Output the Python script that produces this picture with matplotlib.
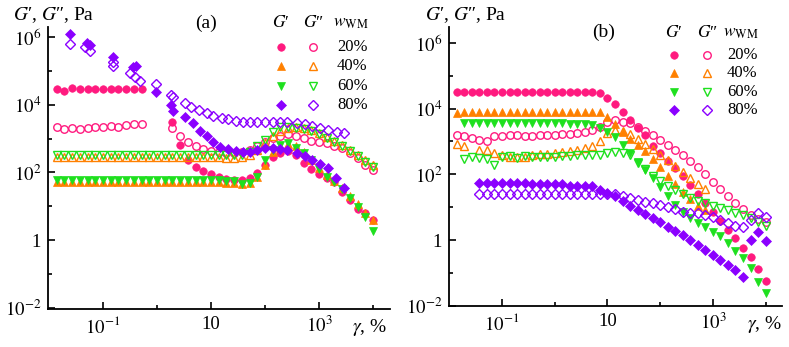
import numpy as np
import matplotlib
matplotlib.use('Agg')
import matplotlib.pyplot as plt

plt.rcParams['font.family'] = ['Liberation Serif', 'DejaVu Serif']
plt.rcParams['mathtext.fontset'] = 'stix'

nan = float('nan')

# strain amplitude sweep, %
GAMMA = [0.0139, 0.0193, 0.0268, 0.0373, 0.0518, 0.0720, 0.100, 0.139, 0.193, 0.268,
         0.373, 0.518, 0.720, 1.00, 1.39, 1.93, 2.68, 3.73, 5.18, 7.20,
         10.0, 13.9, 19.3, 26.8, 37.3, 51.8, 72.0, 100, 139, 193,
         268, 373, 518, 720, 1000, 1390, 1930, 2680, 3730, 5180,
         7200, 10000]

WWM_LABELS = ['20%', '40%', '60%', '80%']

# ---------------- panel (a) ----------------
a_G1_20 = [2.9e4, 2.5e4, 3.1e4, 2.9e4, 2.9e4, 2.9e4, 2.9e4, 2.9e4, 2.9e4, 2.9e4, 2.9e4, 2.9e4,
           nan, nan, nan, 3100, 650, 235, 145, 110, 90, 73, 64, 60, 60, 68, 96, 166, 280, 370,
           430, 325, 190, 126, 90, 68, 52, 26, 15.5, 8.3, 6.3, 4.0]
a_G2_20 = [2190, 1910, 2040, 1910, 2040, 2190, 2190, 2340, 2190, 2510, 2700, 2700,
           nan, nan, nan, 2040, 1170, 790, 600, 490, 430, 400, 370, 370, 400, 460, 600, 790, 1030, 1170,
           1350, 1170, 1030, 850, 790, 740, 600, 525, 370, 260, 166, 118]
a_G1_40 = [52, 51, 52, 53, 52, 52, 51, 52, 52, 53, 52, 52, 51, 52, 52, 52, 53, 52, 51, 52,
           52, 51, 50, 50, 45, 50, 75, 166, 400, 560, 690, 600, 400, 235, 135, 83, 56, 35, 20, 11.7,
           6.3, 4.0]
a_G2_40 = [280, 278, 280, 282, 280, 280, 278, 280, 281, 280, 279, 280, 280, 281, 280, 280, 279, 280, 280, 278,
           278, 276, 275, 275, 280, 325, 460, 740, 1180, 1660, 2040, 2190, 2040, 1780, 1450, 1100, 850, 650, 460, 325,
           235, 166]
a_G1_60 = [60, 61, 60, 60, 61, 60, 60, 61, 60, 60, 60, 61, 60, 60, 60, 61, 60, 60, 59, 60,
           59, 58, 57, 55, 46, 49, 73, 235, 460, 650, 740, 525, 370, 235, 126, 73, 52, 32, 17.5, 9.5,
           4.8, 1.9]
a_G2_60 = [325, 326, 325, 324, 325, 326, 325, 325, 324, 325, 325, 326, 325, 325, 324, 325, 325, 326, 325, 324,
           322, 320, 318, 318, 320, 400, 600, 910, 1550, 2190, 2190, 2040, 1910, 1660, 1350, 1020, 790, 600, 430, 300,
           200, 145]
# 80 % sample was measured on its own strain points
a_x80_G1 = [0.0245, 0.0506, 0.0574, 0.153, 0.360, 0.408, 0.957, 1.82, 1.98, 3.30, 4.64, 6.26, 8.43, 10.9,
            14.7, 20.6, 29.0, 39.1, 52.7, 71.1, 100, 141, 190, 255, 392, 551, 741, 1040, 1470, 2070, 2900]
a_G1_80 = [1.21e6, 6.6e5, 5.7e5, 2.5e5, 1.29e5, 1.38e5, 2.35e4, 9700, 6500, 4300, 2870, 1660, 1190, 790,
           560, 490, 428, 400, 400, 458, 525, 525, 490, 458, 373, 305, 232, 177, 135, 68, 35]
a_x80_G2 = [0.0245, 0.0464, 0.0574, 0.153, 0.153, 0.316, 0.392, 0.484, 0.957, 1.82, 1.98, 3.30, 4.26, 5.99,
            8.43, 10.9, 16.0, 20.6, 29.0, 39.1, 52.7, 71.1, 100, 141, 190, 255, 392, 551, 741, 1040,
            1470, 2150, 2900]
a_G2_80 = [6.1e5, 5.0e5, 3.8e5, 1.8e5, 1.38e5, 8.6e4, 6.5e4, 5.0e4, 4.1e4, 1.92e4, 1.68e4, 1.11e4, 8500, 6900,
           5650, 4600, 4000, 3760, 3280, 3070, 3070, 3070, 3070, 3070, 3070, 3070, 2870, 2680, 2340, 2040,
           1780, 1560, 1450]

# ---------------- panel (b) ----------------
b_G1_20 = [3.1e4, 3.2e4, 3.2e4, 3.2e4, 3.2e4, 3.2e4, 3.2e4, 3.2e4, 3.2e4, 3.2e4, 3.2e4, 3.2e4, 3.2e4, 3.2e4,
           3.2e4, 3.2e4, 3.2e4, 3.2e4, 3.1e4, 2.9e4, 2.1e4, 1.4e4, 7900, 4500, 2600, 1600, 730, 450, 257, 156,
           89, 48, 25, 13.4, 7.2, 3.8, 2.0, 1.17, 0.57, 0.31, 0.13, 0.057]
b_G2_20 = [1590, 1480, 1290, 1120, 1050, 1480, 1480, 1590, 1590, 1480, 1480, 1590, 1590, 1590, 1700, 1700,
           1820, 1960, 2250, 2760, 3900, 4460, 3900, 3600, 2760, 2090, 1590, 1120, 780, 550, 390, 257, 170,
           102, 59, 36, 22, 13.4, 8.9, 5.9, 4.4, 3.5]
b_G1_40 = [7400, 7900, 8000, 8000, 8000, 8000, 8000, 8000, 8000, 8000, 8000, 8000, 8000, 8000, 8000, 8000,
           8000, 8000, 8000, 8000, 5500, 3400, 1950, 1200, 780, 510, 295, 170, 89, 51, 29, 18, 11, 8.3,
           nan, nan, nan, nan, nan, nan, nan, nan]
b_G2_40 = [830, 730, nan, 550, 550, 450, 390, 340, 340, 340, 390, 420, 420, 450, 480, 510, 550, 630, 730,
           1050, 1820, 2240, 2090, 1700, 1200, 830, 590, 390, 275, 180, 118, 78, 51, 36,
           nan, nan, nan, nan, nan, nan, nan, nan]
b_G1_60 = [nan, 3600, 3600, 3600, 3600, 3600, 3600, 3600, 3600, 3600, 3600, 3600, 3600, 3600, 3600, 3500,
           3400, 3300, 3200, 2570, 1960, 1380, 780, 450, 240, 135, 78, 42, 22, 11.7, 7.2, 4.7, 3.3, 2.5,
           1.78, 1.35, 0.81, 0.47, 0.29, 0.14, 0.054, 0.025]
b_G2_60 = [nan, 295, 340, 316, 295, 195, 340, 365, 316, 365, 340, 340, 340, 340, 365, 365, 390, 390, 390,
           390, 450, 480, 450, 390, 225, 145, 89, 63, 45, 34, 25, 19, 15.5, 13.4, 11, 9.5, 8.3, 6.7, 5.9,
           4.7, 3.5, 2.7]
b_G1_80 = [nan, nan, nan, 55, 55, 55, 55, 55, 55, 55, 52, 52, 52, 52, 52, 45, 45, 45, 45,
           34, 27, 22, 15.5, 11, 8.3, 6.3, 4.7, 3.5, 2.5, 1.9, 1.45, 1.0, 0.71, 0.50, 0.35, 0.25, 0.18,
           0.12, 0.076, 1.0, 1.78, 0.95]
b_G2_80 = [nan, nan, nan, 25, 25, 25, 25, 25, 25, 25, 25, 25, 25, 25, 25, 25, 25, 25, 25,
           25, 25, 25, 22, 19, 16.6, 14.5, 13.4, 11.7, 10.2, 8.9, 7.2, 6.7, 6.7, 5.9, 5.1, 4.1, 3.3,
           2.7, 2.5, 4.1, 6.7, 5.1]

COLORS = ['#FF1A7F', '#FF8000', '#1EE01E', '#8B00FF']
MARKERS = ['o', '^', 'v', 'D']
SIZES = [5.4, 5.8, 5.8, 4.8]

G1_TXT = r'$\mathit{G}$′'
G2_TXT = r'$\mathit{G}$″'


def put(ax, x, y, k, filled):
    if filled:
        ax.plot(x, y, ls='none', marker=MARKERS[k], ms=SIZES[k], mfc=COLORS[k], mec=COLORS[k], mew=0.5)
    else:
        ax.plot(x, y, ls='none', marker=MARKERS[k], ms=SIZES[k], mfc='none', mec=COLORS[k], mew=1.0)


def style_axes(ax, xlim, ylim):
    ax.set_xscale('log')
    ax.set_yscale('log')
    ax.set_xlim(*xlim)
    ax.set_ylim(*ylim)
    for s in ['top', 'right']:
        ax.spines[s].set_visible(False)
    for s in ['left', 'bottom']:
        ax.spines[s].set_linewidth(1.3)
    ax.set_xticks([0.1, 10, 1000])
    ax.set_xticklabels(['$10^{-1}$', '10', '$10^{3}$'])
    ax.set_xticks([1, 100, 1e4], minor=True)
    ax.set_yticks([1e-2, 1, 1e2, 1e4, 1e6])
    ax.set_yticklabels(['$10^{-2}$', '1', '$10^{2}$', '$10^{4}$', '$10^{6}$'])
    ax.set_yticks([0.1, 10, 1e3, 1e5], minor=True)
    ax.xaxis.set_minor_formatter(matplotlib.ticker.NullFormatter())
    ax.yaxis.set_minor_formatter(matplotlib.ticker.NullFormatter())
    ax.tick_params(which='major', direction='in', length=5, width=1.2, labelsize=13.5, pad=5)
    ax.tick_params(which='minor', direction='in', length=3, width=1.2)


def legend_block(ax, x1, x2, xt, ytop, dy, yhead):
    ax.text(x1, yhead, G1_TXT, transform=ax.transAxes, ha='center', va='center', fontsize=12.5)
    ax.text(x2, yhead, G2_TXT, transform=ax.transAxes, ha='center', va='center', fontsize=12.5)
    ax.text(xt - 0.012, yhead, r'$\mathit{w}_{\mathrm{WM}}$', transform=ax.transAxes,
            ha='left', va='center', fontsize=12.5)
    for k, lab in enumerate(WWM_LABELS):
        yy = ytop - k * dy
        ax.plot([x1], [yy], transform=ax.transAxes, ls='none', marker=MARKERS[k], ms=SIZES[k],
                mfc=COLORS[k], mec=COLORS[k], mew=0.5, clip_on=False)
        ax.plot([x2], [yy], transform=ax.transAxes, ls='none', marker=MARKERS[k], ms=SIZES[k],
                mfc='none', mec=COLORS[k], mew=1.0, clip_on=False)
        ax.text(xt, yy, lab, transform=ax.transAxes, ha='left', va='center', fontsize=12)


fig = plt.figure(figsize=(7.89, 3.47), dpi=100)
ax_a = fig.add_axes([48 / 789, 1 - 309 / 347, 342 / 789, 282 / 347])
ax_b = fig.add_axes([449 / 789, 1 - 306 / 347, 333 / 789, 279 / 347])

panel_a = [(a_G1_20, a_G2_20), (a_G1_40, a_G2_40), (a_G1_60, a_G2_60)]
for k, (g1, g2) in enumerate(panel_a):
    put(ax_a, GAMMA, g1, k, True)
    put(ax_a, GAMMA, g2, k, False)
put(ax_a, a_x80_G1, a_G1_80, 3, True)
put(ax_a, a_x80_G2, a_G2_80, 3, False)

panel_b = [(b_G1_20, b_G2_20), (b_G1_40, b_G2_40), (b_G1_60, b_G2_60), (b_G1_80, b_G2_80)]
for k, (g1, g2) in enumerate(panel_b):
    put(ax_b, GAMMA, g1, k, True)
    put(ax_b, GAMMA, g2, k, False)

style_axes(ax_a, (10 ** -2.02, 10 ** 4.315), (10 ** -2.03, 10 ** 6.29))
style_axes(ax_b, (10 ** -2.005, 10 ** 4.31), (10 ** -2.0, 10 ** 6.48))

# labels
ylab = G1_TXT + ', ' + G2_TXT + ', Pa'
ax_a.text(-0.102, 1.043, ylab, transform=ax_a.transAxes, ha='left', va='center', fontsize=14)
ax_b.text(-0.072, 1.043, ylab, transform=ax_b.transAxes, ha='left', va='center', fontsize=14)
ax_a.text(0.462, 1.014, '(a)', transform=ax_a.transAxes, ha='center', va='center', fontsize=14)
ax_b.text(0.463, 0.98, '(b)', transform=ax_b.transAxes, ha='center', va='center', fontsize=14)
ax_a.text(0.889, -0.067, r'$\mathit{\gamma}$, %', transform=ax_a.transAxes, ha='left', va='center', fontsize=14)
ax_b.text(0.895, -0.068, r'$\mathit{\gamma}$, %', transform=ax_b.transAxes, ha='left', va='center', fontsize=14)

legend_block(ax_a, 0.681, 0.775, 0.845, 0.929, 0.069, 1.014)
legend_block(ax_b, 0.676, 0.775, 0.835, 0.900, 0.066, 0.98)

fig.savefig('out.png', dpi=100)
